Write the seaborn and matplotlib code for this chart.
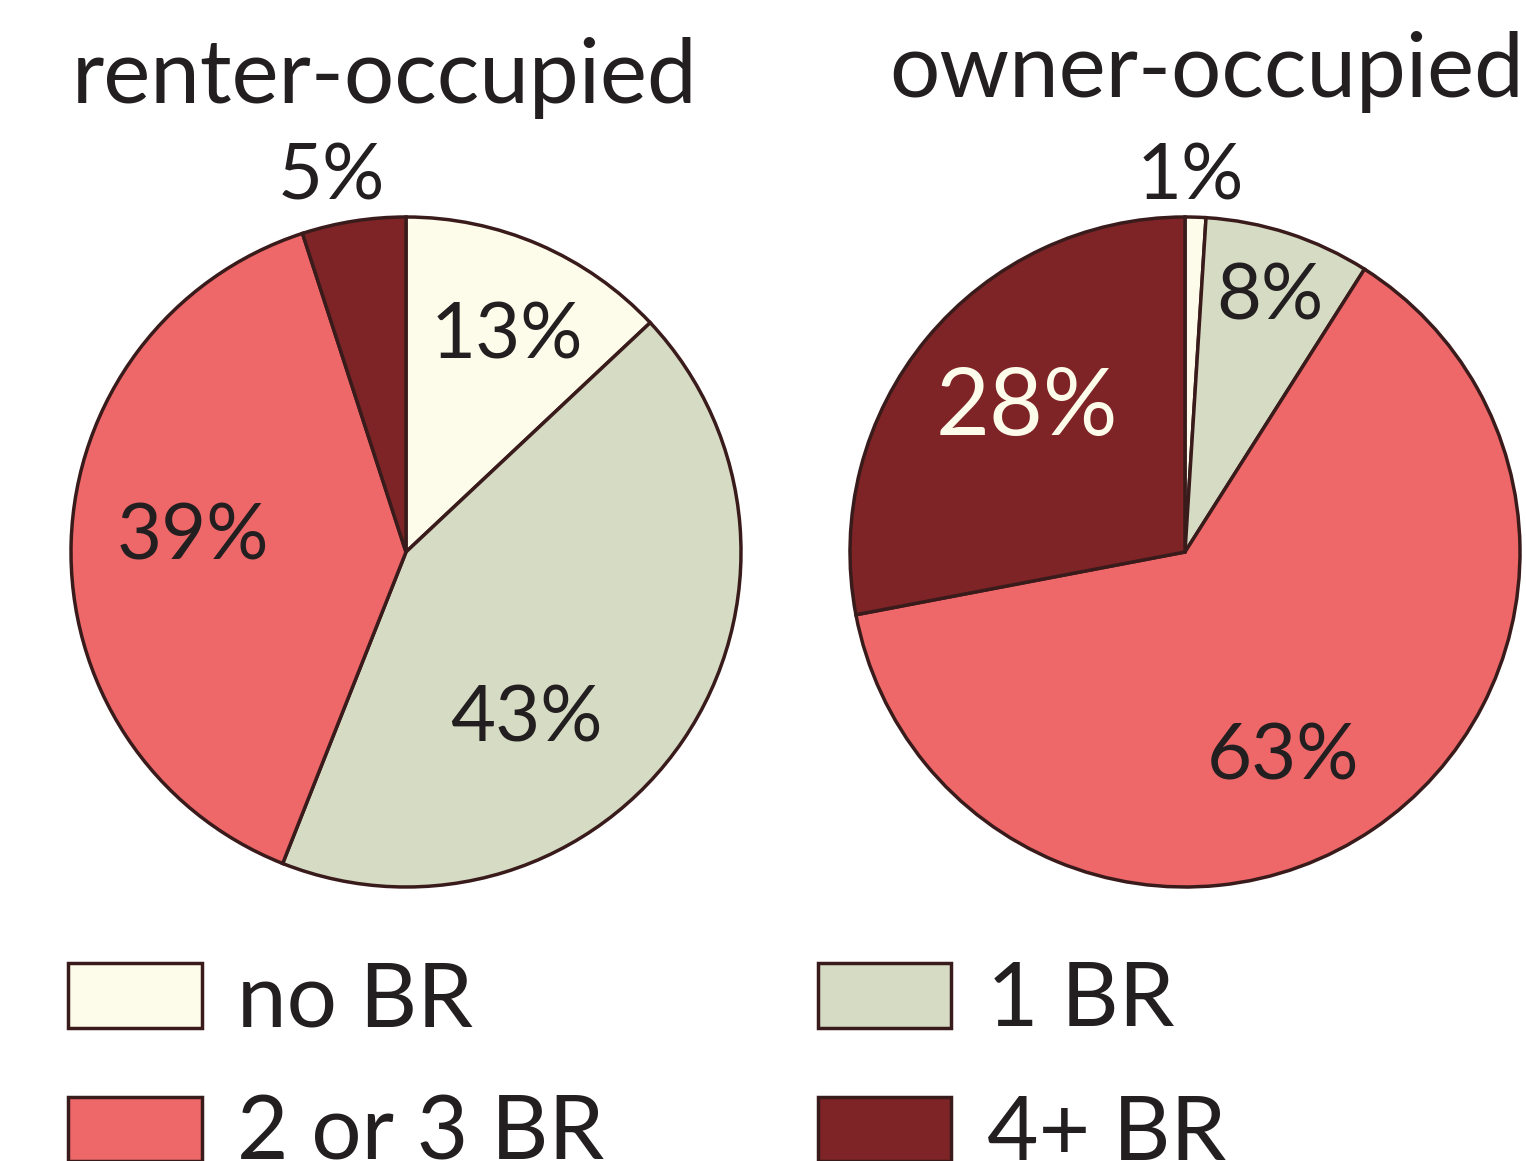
import numpy as np
import pandas as pd
import seaborn as sns
import matplotlib.pyplot as plt
from matplotlib.patches import Patch

# categories and shares (percent)
categories = ['no BR', '1 BR', '2 or 3 BR', '4+ BR']
renter_pct = [13, 43, 39, 5]
owner_pct = [1, 8, 63, 28]
titles = ['renter-occupied', 'owner-occupied']

# colours
cream = '#FDFBEA'
sage = '#D6DBC4'
salmon = '#EE6769'
maroon = '#7F2426'
edge = '#3A1B1B'
ink = '#231F20'
colors = [cream, sage, salmon, maroon]

sns.set_theme(style='white')
plt.rcParams['font.family'] = ['Lato', 'DejaVu Sans']

fig = plt.figure(figsize=(15.26, 11.61), dpi=100)

# label tweaks per slice: (radial distance, angular nudge in degrees, size, colour)
renter_lbl = [(0.73, -1, 56, ink), (0.60, -19, 56, ink), (0.64, -4, 56, ink), (1.16, 2, 56, ink)]
owner_lbl = [(1.14, 1, 56, ink), (0.82, 0, 56, ink), (0.66, -8, 56, ink), (0.65, -4, 67, cream)]

data = pd.DataFrame({'category': categories, 'renter': renter_pct, 'owner': owner_pct})

axes_pos = [[71 / 1526, 274 / 1161, 670 / 1526, 670 / 1161],
            [850 / 1526, 274 / 1161, 670 / 1526, 670 / 1161]]

for col, pos, lbls in zip(['renter', 'owner'], axes_pos, [renter_lbl, owner_lbl]):
    ax = fig.add_axes(pos)
    wedges, _ = ax.pie(data[col], colors=colors, startangle=90, counterclock=False,
                       wedgeprops=dict(edgecolor=edge, linewidth=2.5))
    ax.set_xlim(-1.0, 1.0)
    ax.set_ylim(-1.0, 1.0)
    ax.set_aspect('equal')
    ax.axis('off')
    for w, v, (rd, nudge, fs, c) in zip(wedges, data[col], lbls):
        ang = np.deg2rad((w.theta1 + w.theta2) / 2 + nudge)
        ax.text(rd * np.cos(ang), rd * np.sin(ang) - 0.022, f'{v}%', ha='center', va='center',
                fontsize=fs, color=c, clip_on=False)

# titles
fig.text(385 / 1526, 1 - 103 / 1161, titles[0], ha='center', va='baseline', fontsize=64, color=ink)
fig.text(1207 / 1526, 1 - 97 / 1161, titles[1], ha='center', va='baseline', fontsize=64, color=ink)

# legend
handles = [Patch(facecolor=c, edgecolor=edge, linewidth=2.5, label=l) for c, l in zip(colors, categories)]
order = [0, 2, 1, 3]
fig.legend([handles[i] for i in order], [categories[i] for i in order], ncol=2,
           loc='upper left', bbox_to_anchor=(24 / 1526, 1 - 916 / 1161), frameon=False,
           fontsize=64, handlelength=1.5, handleheight=0.74, handletextpad=0.4,
           columnspacing=2.4, labelspacing=0.58, labelcolor=ink, borderpad=0)

fig.savefig('out.png', dpi=100)
